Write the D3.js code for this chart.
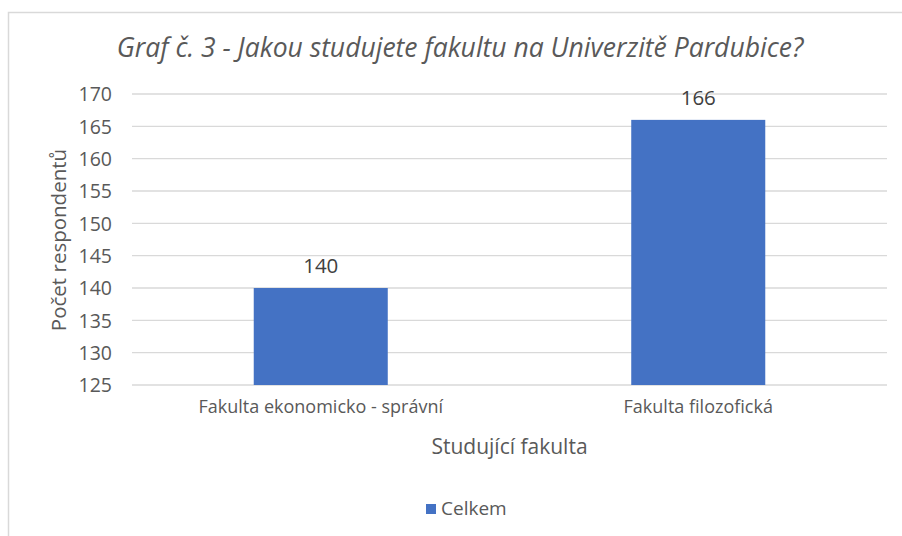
<!DOCTYPE html>
<html>
<head>
<meta charset="utf-8">
<script src="https://cdn.jsdelivr.net/npm/d3@7"></script>
<style>
  body { margin: 0; background: #fff; }
  text { font-family: "Open Sans", "Noto Sans", sans-serif; }
</style>
</head>
<body>
<svg id="chart" width="902" height="536"></svg>
<script>
// data
var categories = ["Fakulta ekonomicko - správní", "Fakulta filozofická"];
var values = [140, 166];
var yTicks = [125, 130, 135, 140, 145, 150, 155, 160, 165, 170];
var seriesName = "Celkem";

var svg = d3.select("#chart");
var margin = {left: 132, right: 15, top: 94, bottom: 151};
var width = 902, height = 536;

// chart border
svg.append("rect")
  .attr("x", 8.5).attr("y", 12.5)
  .attr("width", 910).attr("height", 540)
  .attr("fill", "#fff")
  .attr("stroke", "#d9d9d9").attr("stroke-width", 1.5);

var x = d3.scaleBand()
  .domain(categories)
  .range([margin.left, width - margin.right])
  .paddingInner(0.645)
  .paddingOuter(0.3225);

var y = d3.scaleLinear()
  .domain([125, 170])
  .range([height - margin.bottom, margin.top]);

// gridlines
svg.append("g")
  .selectAll("line")
  .data(yTicks)
  .enter().append("line")
  .attr("x1", margin.left).attr("x2", width - margin.right)
  .attr("y1", d => y(d)).attr("y2", d => y(d))
  .attr("stroke", "#d9d9d9").attr("stroke-width", 1.3);

// y tick labels
var yAxis = svg.append("g")
  .attr("transform", "translate(" + (margin.left - 20) + ",0)")
  .call(d3.axisLeft(y).tickValues(yTicks).tickSize(0).tickPadding(0));
yAxis.select(".domain").remove();
yAxis.selectAll("text")
  .attr("fill", "#595959").attr("font-size", 19.5).attr("dy", "0.35em");

// bars
svg.append("g")
  .selectAll("rect")
  .data(values)
  .enter().append("rect")
  .attr("x", (d, i) => x(categories[i]))
  .attr("width", x.bandwidth())
  .attr("y", d => y(d))
  .attr("height", d => y(125) - y(d))
  .attr("fill", "#4472c4");

// data labels
svg.append("g")
  .selectAll("text")
  .data(values)
  .enter().append("text")
  .attr("x", (d, i) => x(categories[i]) + x.bandwidth() / 2)
  .attr("y", d => y(d) - 15)
  .attr("text-anchor", "middle")
  .attr("fill", "#404040")
  .attr("font-size", 20.5)
  .text(d => d);

// x category labels
var xAxis = svg.append("g")
  .attr("transform", "translate(0," + (height - margin.bottom) + ")")
  .call(d3.axisBottom(x).tickSize(0).tickPadding(0));
xAxis.select(".domain").remove();
xAxis.selectAll("text")
  .attr("fill", "#595959").attr("font-size", 18).attr("dy", "1.55em");

// axis titles
svg.append("text")
  .attr("x", (margin.left + width - margin.right) / 2)
  .attr("y", 454)
  .attr("text-anchor", "middle")
  .attr("fill", "#595959").attr("font-size", 21)
  .text("Studující fakulta");

svg.append("text")
  .attr("transform", "translate(66,240) rotate(-90)")
  .attr("text-anchor", "middle")
  .attr("fill", "#595959").attr("font-size", 20.5)
  .text("Počet respondentů");

// title
svg.append("text")
  .attr("x", 460)
  .attr("y", 57)
  .attr("text-anchor", "middle")
  .attr("font-style", "italic")
  .attr("fill", "#595959").attr("font-size", 26.5)
  .text("Graf č. 3 - Jakou studujete fakultu na Univerzitě Pardubice?");

// legend
var legend = svg.append("g").attr("transform", "translate(426,504)");
legend.append("rect").attr("width", 10).attr("height", 10).attr("fill", "#4472c4");
legend.append("text").attr("x", 15).attr("y", 11)
  .attr("fill", "#595959").attr("font-size", 19)
  .text(seriesName);
</script>
</body>
</html>
